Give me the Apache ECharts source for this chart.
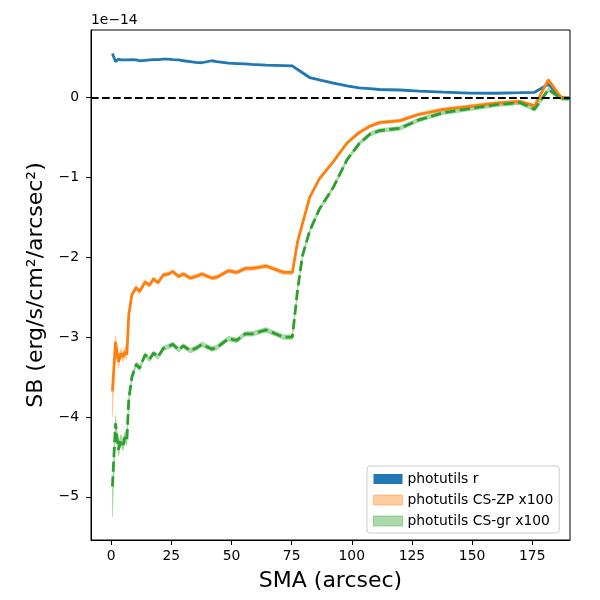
<!DOCTYPE html>
<html>
<head>
<meta charset="utf-8">
<script src="https://cdn.jsdelivr.net/npm/echarts@6/dist/echarts.min.js"></script>
<style>
  html, body { margin: 0; padding: 0; background: #fff; }
  #chart { width: 600px; height: 600px; }
</style>
</head>
<body>
<div id="chart"></div>
<script>
// SMA (arcsec) sample radii
var sma = [0.5, 1.8, 3.0, 4.0, 4.9, 5.8, 6.5, 7.3, 8.6, 10.4, 11.8, 14.1, 15.9, 17.6, 19.4, 21.7, 23.8, 25.6, 28.0, 30.0,
  32.8, 35.2, 37.7, 41.8, 43.9, 48.7, 52.2, 55.7, 58.5, 64.4, 71.6, 75.3, 77.5, 79.5, 82.5, 86.5, 92.4, 98.0, 103.0, 107.5,
  111.5, 120.0, 128.0, 138.0, 149.0, 160.0, 170.0, 176.0, 181.7, 187.0, 191.0];

// surface brightness, units of 1e-14
var sbR = [0.55, 0.45, 0.48, 0.47, 0.47, 0.47, 0.47, 0.47, 0.475, 0.47, 0.46, 0.465, 0.47, 0.475, 0.475, 0.48, 0.48, 0.475, 0.47, 0.46,
  0.45, 0.44, 0.435, 0.46, 0.45, 0.43, 0.425, 0.42, 0.415, 0.405, 0.40, 0.395, 0.35, 0.31, 0.25, 0.22, 0.18, 0.145, 0.12, 0.11,
  0.10, 0.094, 0.08, 0.067, 0.055, 0.053, 0.06, 0.065, 0.165, 0.0, -0.01];

var sbZP = [-3.68, -3.06, -3.31, -3.20, -3.25, -3.18, -3.22, -2.72, -2.47, -2.38, -2.43, -2.31, -2.35, -2.27, -2.32, -2.22, -2.21, -2.18, -2.24, -2.21,
  -2.26, -2.24, -2.21, -2.26, -2.25, -2.17, -2.19, -2.14, -2.14, -2.11, -2.19, -2.19, -1.80, -1.58, -1.25, -1.02, -0.80, -0.57, -0.44, -0.36,
  -0.315, -0.29, -0.21, -0.15, -0.11, -0.07, -0.05, -0.106, 0.22, 0.0, -0.01];
var zpErrLo = [0.32, 0.08, 0.07, 0.06, 0.06, 0.06, 0.06, 0.04, 0.03, 0.03, 0.03, 0.025, 0.025, 0.025, 0.025, 0.025, 0.025, 0.025, 0.025, 0.025,
  0.025, 0.025, 0.025, 0.025, 0.025, 0.025, 0.025, 0.025, 0.025, 0.025, 0.025, 0.025, 0.02, 0.02, 0.02, 0.02, 0.02, 0.02, 0.02, 0.02,
  0.02, 0.02, 0.02, 0.02, 0.02, 0.02, 0.02, 0.02, 0.02, 0.02, 0.02];
var zpErrHi = [0.0, 0.08, 0.07, 0.06, 0.06, 0.06, 0.06, 0.04, 0.03, 0.03, 0.03, 0.025, 0.025, 0.025, 0.025, 0.025, 0.025, 0.025, 0.025, 0.025,
  0.025, 0.025, 0.025, 0.025, 0.025, 0.025, 0.025, 0.025, 0.025, 0.025, 0.025, 0.025, 0.02, 0.02, 0.02, 0.02, 0.02, 0.02, 0.02, 0.02,
  0.02, 0.02, 0.02, 0.02, 0.02, 0.02, 0.02, 0.02, 0.02, 0.02, 0.02];

var sbGR = [-4.87, -4.08, -4.41, -4.29, -4.35, -4.25, -4.29, -3.78, -3.50, -3.34, -3.39, -3.22, -3.28, -3.20, -3.25, -3.14, -3.12, -3.09, -3.16, -3.11,
  -3.17, -3.14, -3.09, -3.15, -3.13, -3.02, -3.04, -2.96, -2.96, -2.91, -3.00, -3.00, -2.40, -1.98, -1.67, -1.40, -1.12, -0.78, -0.58, -0.46,
  -0.415, -0.385, -0.28, -0.19, -0.14, -0.09, -0.065, -0.148, 0.10, -0.01, -0.015];
var grErrLo = [0.38, 0.10, 0.08, 0.07, 0.07, 0.07, 0.07, 0.05, 0.035, 0.03, 0.03, 0.03, 0.03, 0.03, 0.03, 0.03, 0.03, 0.03, 0.03, 0.03,
  0.03, 0.03, 0.03, 0.03, 0.03, 0.03, 0.03, 0.03, 0.03, 0.03, 0.03, 0.03, 0.025, 0.025, 0.025, 0.025, 0.025, 0.025, 0.025, 0.025,
  0.025, 0.025, 0.025, 0.025, 0.025, 0.025, 0.025, 0.025, 0.025, 0.025, 0.025];
var grErrHi = [0.0, 0.10, 0.08, 0.07, 0.07, 0.07, 0.07, 0.05, 0.035, 0.03, 0.03, 0.03, 0.03, 0.03, 0.03, 0.03, 0.03, 0.03, 0.03, 0.03,
  0.03, 0.03, 0.03, 0.03, 0.03, 0.03, 0.03, 0.03, 0.03, 0.03, 0.03, 0.03, 0.025, 0.025, 0.025, 0.025, 0.025, 0.025, 0.025, 0.025,
  0.025, 0.025, 0.025, 0.025, 0.025, 0.025, 0.025, 0.025, 0.025, 0.025, 0.025];

var xTicks = [0, 25, 50, 75, 100, 125, 150, 175];
var yTicks = [-5, -4, -3, -2, -1, 0];

var FONT = 'DejaVu Sans';
var chart = echarts.init(document.getElementById('chart'), null, { renderer: 'canvas' });

function pairs(ys) {
  return sma.map(function (x, i) { return [x, ys[i]]; });
}
function tickFmt(v) {
  return v < 0 ? '\u2212' + Math.abs(v) : String(v);
}

// shaded band: whole polygon drawn once, through the axis scales
function band(name, ys, lo, hi, fill) {
  return {
    name: name, type: 'custom', clip: true, silent: true, z: 1,
    itemStyle: { color: fill },
    data: sma.map(function (x, i) { return [x, ys[i] - lo[i], ys[i] + hi[i]]; }),
    encode: { x: 0, y: [1, 2] },
    renderItem: function (params, api) {
      if (params.dataIndex !== 0) return;
      var pts = [];
      for (var i = 0; i < sma.length; i++) pts.push(api.coord([sma[i], ys[i] + hi[i]]));
      for (var j = sma.length - 1; j >= 0; j--) pts.push(api.coord([sma[j], ys[j] - lo[j]]));
      return { type: 'polygon', shape: { points: pts }, style: { fill: fill, stroke: fill, lineWidth: 0.5 } };
    }
  };
}

var option = {
  animation: false,
  textStyle: { fontFamily: FONT },
  grid: { left: 91, right: 30, top: 30, bottom: 60, show: true, borderColor: '#000', borderWidth: 1, backgroundColor: 'transparent' },
  legend: {
    orient: 'vertical',
    left: 367, top: 466,
    padding: [6, 6, 5, 6],
    itemGap: 7,
    itemWidth: 29, itemHeight: 10,
    icon: 'rect',
    backgroundColor: 'rgba(255,255,255,0.8)',
    borderColor: '#cccccc', borderWidth: 1, borderRadius: 3,
    textStyle: { fontFamily: FONT, fontSize: 13.9, color: '#000' },
    selectedMode: false,
    data: [
      { name: 'photutils r', itemStyle: { color: '#1f77b4', borderWidth: 0 } },
      { name: 'photutils CS-ZP x100', itemStyle: { color: 'rgba(255,127,14,0.4)', borderColor: 'rgba(255,127,14,0.4)', borderWidth: 1 } },
      { name: 'photutils CS-gr x100', itemStyle: { color: 'rgba(44,160,44,0.4)', borderColor: 'rgba(44,160,44,0.4)', borderWidth: 1 } }
    ]
  },
  graphic: [{
    type: 'text', left: 91, top: 13,
    style: { text: '1e\u221214', font: '13.9px "DejaVu Sans"', fill: '#000' }
  }],
  xAxis: {
    type: 'value', min: -8.4, max: 190.7,
    name: 'SMA (arcsec)', nameLocation: 'middle', nameGap: 30,
    nameTextStyle: { fontFamily: FONT, fontSize: 22, color: '#000' },
    axisLine: { show: true, onZero: false, lineStyle: { color: '#000', width: 1 } },
    axisTick: { show: true, length: 5, customValues: xTicks, lineStyle: { color: '#000', width: 1 } },
    axisLabel: { customValues: xTicks, margin: 9, fontFamily: FONT, fontSize: 13.9, color: '#000', formatter: tickFmt },
    splitLine: { show: false }
  },
  yAxis: {
    type: 'value', min: -5.54, max: 0.845,
    name: 'SB (erg/s/cm\u00b2/arcsec\u00b2)', nameLocation: 'middle', nameGap: 43,
    nameTextStyle: { fontFamily: FONT, fontSize: 22, color: '#000' },
    axisLine: { show: true, onZero: false, lineStyle: { color: '#000', width: 1 } },
    axisTick: { show: true, length: 5, customValues: yTicks, lineStyle: { color: '#000', width: 1 } },
    axisLabel: { customValues: yTicks, margin: 12, fontFamily: FONT, fontSize: 13.9, color: '#000', formatter: tickFmt },
    splitLine: { show: false }
  },
  series: [
    band('photutils CS-ZP x100', sbZP, zpErrLo, zpErrHi, 'rgba(255,127,14,0.4)'),
    band('photutils CS-gr x100', sbGR, grErrLo, grErrHi, 'rgba(44,160,44,0.4)'),
    {
      name: 'photutils r', type: 'line', data: pairs(sbR),
      showSymbol: false, symbol: 'none', z: 3,
      itemStyle: { color: '#1f77b4' },
      lineStyle: { color: '#1f77b4', width: 2.8 }
    },
    {
      name: 'zpLine', type: 'line', data: pairs(sbZP),
      showSymbol: false, symbol: 'none', z: 3,
      lineStyle: { color: '#ff7f0e', width: 2.8 }
    },
    {
      name: 'grLine', type: 'line', data: pairs(sbGR),
      showSymbol: false, symbol: 'none', z: 3,
      lineStyle: { color: '#2ca02c', width: 2.8, type: [10.3, 4.4] },
      markLine: {
        silent: true, symbol: 'none', label: { show: false },
        lineStyle: { color: '#000', width: 2, type: [7.7, 3.3] },
        data: [{ yAxis: 0 }]
      }
    }
  ]
};
chart.setOption(option);
</script>
</body>
</html>
